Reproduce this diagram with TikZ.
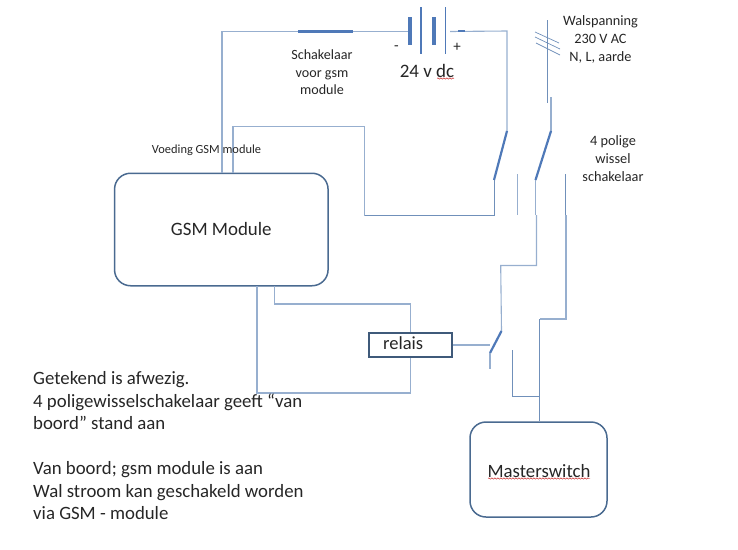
\documentclass[tikz,border=0pt]{standalone}
\usepackage{fontspec}
\setmainfont{Carlito}
\usetikzlibrary{decorations.pathmorphing}
\definecolor{wirec}{HTML}{97AFCF}
\definecolor{wired}{HTML}{7090BA}
\definecolor{thickc}{HTML}{4F79B8}
\definecolor{boxc}{HTML}{4A6A90}
\definecolor{txt}{HTML}{262626}
\tikzset{
  wire/.style={draw=wirec,line width=1.1pt,line join=miter},
  wiredark/.style={draw=wired,line width=1pt},
  blade/.style={draw=thickc,line width=2.2pt},
  plate/.style={draw=thickc,line width=4pt},
  thinplate/.style={draw=thickc,line width=1.4pt},
  roundbox/.style={draw=boxc,line width=1.5pt,rounded corners=16pt,fill=none,inner sep=0pt,font=\fontsize{18.9}{20}\selectfont,text=txt},
  relaybox/.style={draw=boxc!85!black,line width=1.5pt,fill=none,inner sep=0pt,text=txt},
  label/.style={text=txt,align=center,inner sep=0pt},
  squig/.style={draw=red!75!black,line width=0.4pt,decorate,decoration={snake,amplitude=0.7pt,segment length=3pt}},
}
\begin{document}
\begin{tikzpicture}[x=1pt,y=-1pt]
\useasboundingbox (0,0) rectangle (738,549);
% boxes
\node[roundbox,minimum width=213.5pt,minimum height=112.5pt] (gsm) at (221.3,229.5) {GSM Module};
\node[roundbox,minimum width=137pt,minimum height=95pt] (master) at (538.5,469.5) {};
\node[relaybox,minimum width=83pt,minimum height=24pt] (relais) at (410.5,345) {};
% points
\coordinate (tl) at (222,31.5);
\coordinate (gsmA) at (222,173.25);
\coordinate (gsmB) at (233,173.25);
\coordinate (gsmBt) at (233,126.5);
\coordinate (gsmC) at (257,285.75);
\coordinate (gsmCb) at (257,393);
\coordinate (gsmD) at (274.5,285.75);
\coordinate (gsmDb) at (274.5,304);
\coordinate (relTt) at (410.5,304);
\coordinate (relBb) at (410.5,393);
\coordinate (swL) at (298,31.5);
\coordinate (swR) at (353,31.5);
\coordinate (batL) at (410,31.5);
\coordinate (batR) at (450,31.5);
\coordinate (tr) at (507,31);
\coordinate (p1a) at (507,131);
\coordinate (p1b) at (494,180);
\coordinate (p1c) at (494,215.5);
\coordinate (p1d) at (364.5,215.5);
\coordinate (p1e) at (364.5,126.5);
\coordinate (p2t) at (547.5,20);
\coordinate (p2m) at (547.5,103);
\coordinate (p2n) at (551,97);
\coordinate (p2a) at (551,131);
\coordinate (p2b) at (535.5,180);
\coordinate (p2c) at (535.5,215);
\coordinate (p2cc) at (536.5,215);
\coordinate (p2d) at (536.5,265.5);
\coordinate (p2e) at (500.7,265.5);
\coordinate (r1) at (501.5,331);
\coordinate (r2) at (490,353);
\coordinate (r3) at (490,369);
\coordinate (rh) at (490,345);
\coordinate (c1) at (512.6,350);
\coordinate (c2) at (512.6,396);
\coordinate (j) at (539.5,396);
\coordinate (c3t) at (517.5,174);
\coordinate (c3b) at (517.5,215);
\coordinate (c4t) at (565,174);
\coordinate (c4m) at (565,215);
\coordinate (c4n) at (566,215);
\coordinate (c4b) at (566,319);
\coordinate (c4c) at (539.5,319);
\coordinate (bt1) at (458,31);
\coordinate (bt2) at (465,31);
% wires
\draw[wire] (gsmA) -- (tl) -- (swL);
\draw[wire] (swR) -- (batL);
\draw[blade] (swL) -- (swR);
\draw[wire] (batR) -- (tr) -- (p1a);
\draw[thickc,line width=1.4pt] (bt1) -- (bt2);
\draw[blade] (p1a) -- (p1b);
\draw[wiredark] (p1b) -- (p1c) -- (p1d);
\draw[wire] (p1d) -- (p1e) -- (gsmBt) -- (gsmB);
\draw[wiredark] (p2t) -- (p2m);
\draw[wire] (p2n) -- (p2a);
\draw[blade] (p2a) -- (p2b);
\draw[wire] (p2b) -- (p2c);
\draw[wire] (p2cc) -- (p2d) -- (p2e) -- (r1);
\draw[blade] (r1) -- (r2);
\draw[wire] (r2) -- (r3);
\draw[wire] (relais.east) -- (rh);
\draw[wiredark] (c1) -- (c2) -- (j);
\draw[wire] (c3t) -- (c3b);
\draw[wiredark] (c4t) -- (c4m);
\draw[wire] (c4n) -- (c4b) -- (c4c);
\draw[wiredark] (c4c) -- (master.north -| c4c);
\draw[wire] (gsmC) -- (gsmCb) -- (relBb) -- (relais.south);
\draw[wire] (gsmD) -- (gsmDb) -- (relTt) -- (relais.north);
% battery
\draw[plate] (410,17) -- (410,45);
\draw[thinplate] (421,7) -- (421,54);
\draw[plate] (434,17) -- (434,45);
\draw[thinplate] (445.5,7) -- (445.5,54);
% mains hatch
\draw[wiredark,line width=.7pt] (535,32) -- (559,43);
\draw[wiredark,line width=.7pt] (535,37) -- (560,49);
\draw[wiredark,line width=.7pt] (536,43) -- (560,55);
% labels
\node[label,font=\fontsize{14.1}{17.4}\selectfont] (tSch) at (322,72.5) {Schakelaar\\voor gsm\\module};
\node[label,font=\fontsize{15}{15}\selectfont] (tMin) at (396.5,48) {-};
\node[label,font=\fontsize{15}{15}\selectfont] (tPlus) at (457,47.5) {+};
\node[label,font=\fontsize{19}{19}\selectfont,anchor=base] (tDc) at (427,77) {24 v dc};
\draw[squig] (437,78.5) -- (454,78.5);
\node[label,font=\fontsize{14.3}{17.8}\selectfont] (tWal) at (600.5,39.5) {Walspanning\\230 V AC\\N, L, aarde};
\node[label,font=\fontsize{14.3}{17.6}\selectfont] (tPol) at (613,158.5) {4 polige\\wissel\\schakelaar};
\node[label,font=\fontsize{12.4}{13}\selectfont,anchor=base] (tVoe) at (206.5,153) {Voeding GSM module};
\node[label,font=\fontsize{18.5}{18.5}\selectfont,anchor=base west] (tRel) at (383,349) {relais};
\node[label,font=\fontsize{18.8}{18.8}\selectfont,anchor=base] (tMas) at (539,477) {Masterswitch};
\draw[squig] (488,478.5) -- (590,478.5);
\node[label,align=left,anchor=north west,font=\fontsize{18.8}{22.5}\selectfont] (tNote) at (33,371.5) {Getekend is afwezig.\\4 poligewisselschakelaar geeft “van\\boord” stand aan\\\mbox{}\\Van boord; gsm module is aan\\Wal stroom kan geschakeld worden\\via GSM - module};
\end{tikzpicture}
\end{document}
